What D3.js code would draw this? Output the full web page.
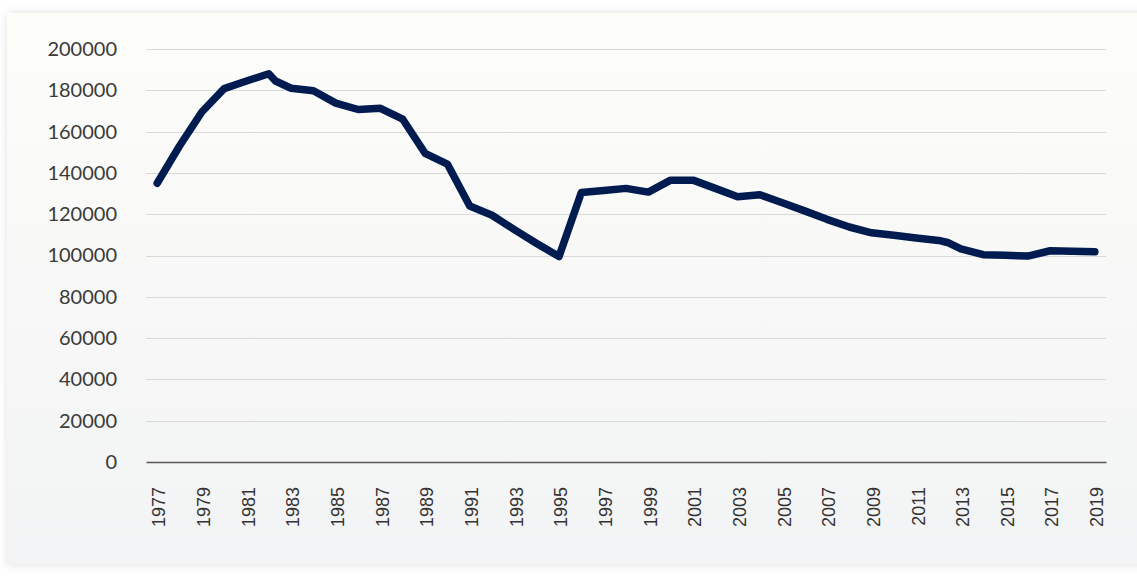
<!DOCTYPE html>
<html>
<head>
<meta charset="utf-8">
<script src="https://cdn.jsdelivr.net/npm/d3@7"></script>
<style>
  body { margin: 0; background: #ffffff; }
  svg { display: block; }
</style>
</head>
<body>
<script>
// Values
const years = [1977, 1978, 1979, 1980, 1981, 1982, 1982.3, 1983, 1984, 1985, 1986, 1987, 1988, 1989,
  1990, 1991, 1992, 1993, 1994, 1995, 1996, 1997, 1998, 1999, 2000, 2001, 2002, 2003, 2004,
  2005, 2006, 2007, 2008, 2009, 2010, 2011, 2012, 2012.4, 2013, 2014, 2015, 2016, 2017, 2018, 2019];
const values = [135000, 153000, 169500, 180800, 184500, 188000, 184500, 181000, 179800, 173800, 170700, 171300, 166000, 149500,
  144300, 124000, 119500, 112500, 105800, 99500, 130500, 131500, 132500, 130700, 136500, 136500, 132500, 128500, 129400,
  125500, 121600, 117500, 113800, 111000, 109800, 108500, 107300, 106300, 103200, 100400, 100100, 99700, 102300, 102100, 101800];
const xTicks = d3.range(1977, 2020, 2);
const yTicks = d3.range(0, 200001, 20000);

const W = 1137, H = 576;
const margin = { top: 49, right: 31, bottom: 114, left: 146 };

const svg = d3.select("body").append("svg")
  .attr("width", W)
  .attr("height", H);

// Card background with soft shadow
const defs = svg.append("defs");
const grad = defs.append("linearGradient")
  .attr("id", "bg")
  .attr("x1", 0).attr("y1", 0).attr("x2", 0).attr("y2", 1);
grad.append("stop").attr("offset", "0%").attr("stop-color", "#fdfdfa");
grad.append("stop").attr("offset", "100%").attr("stop-color", "#f2f3f4");

const shadow = defs.append("filter")
  .attr("id", "shadow")
  .attr("x", "-5%").attr("y", "-5%").attr("width", "110%").attr("height", "110%");
shadow.append("feDropShadow")
  .attr("dx", 0).attr("dy", 0)
  .attr("stdDeviation", 4)
  .attr("flood-color", "#000")
  .attr("flood-opacity", 0.12);

svg.append("rect")
  .attr("x", 7).attr("y", 13)
  .attr("width", W - 7 + 20).attr("height", 552)
  .attr("fill", "url(#bg)")
  .attr("filter", "url(#shadow)");

// Scales
const x = d3.scaleLinear()
  .domain([1976.5, 2019.5])
  .range([margin.left, W - margin.right]);

const y = d3.scaleLinear()
  .domain([0, 200000])
  .range([H - margin.bottom, margin.top]);

// Gridlines
svg.append("g")
  .selectAll("line")
  .data(yTicks.filter(d => d > 0))
  .join("line")
  .attr("x1", x.range()[0])
  .attr("x2", x.range()[1])
  .attr("y1", d => Math.round(y(d)) + 0.5)
  .attr("y2", d => Math.round(y(d)) + 0.5)
  .attr("stroke", "#d9d9d9")
  .attr("stroke-width", 1);

// Y axis labels
const yAxis = d3.axisLeft(y)
  .tickValues(yTicks)
  .tickSize(0)
  .tickPadding(29)
  .tickFormat(d3.format("d"));

svg.append("g")
  .attr("transform", `translate(${margin.left},0)`)
  .call(yAxis)
  .call(g => g.select(".domain").remove())
  .selectAll("text")
  .style("font-family", "Lato, sans-serif")
  .style("font-size", "20px")
  .attr("fill", "#3a3a3a");

// X axis (category labels, rotated)
const xAxis = d3.axisBottom(x)
  .tickValues(xTicks)
  .tickSize(0)
  .tickFormat(d3.format("d"));

svg.append("g")
  .attr("transform", `translate(0,${y(0)})`)
  .call(xAxis)
  .call(g => g.select(".domain")
    .attr("stroke", "#595959")
    .attr("stroke-width", 1.3))
  .selectAll("text")
  .attr("transform", "rotate(-90)")
  .attr("text-anchor", "end")
  .attr("x", -25)
  .attr("y", 1.5)
  .attr("dy", "0.35em")
  .style("font-family", "'Liberation Sans', Arial, sans-serif")
  .style("font-size", "18px")
  .attr("fill", "#333333");

// Line
const line = d3.line()
  .x((d, i) => x(years[i]))
  .y(d => y(d));

svg.append("path")
  .datum(values)
  .attr("d", line)
  .attr("fill", "none")
  .attr("stroke", "#001b50")
  .attr("stroke-width", 7.5)
  .attr("stroke-linejoin", "round")
  .attr("stroke-linecap", "round");
</script>
</body>
</html>
